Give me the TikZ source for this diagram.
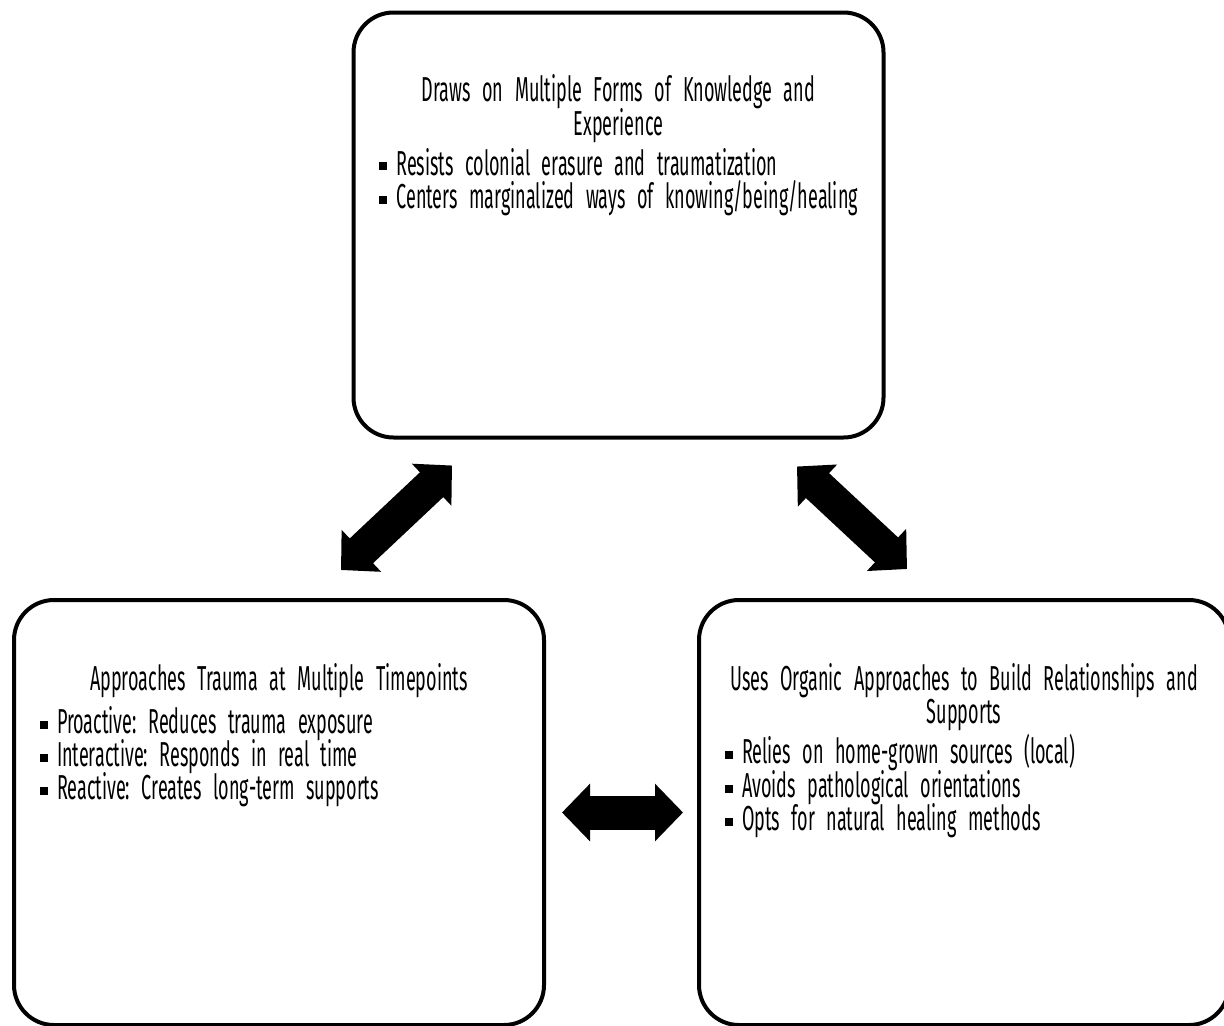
\documentclass[tikz,border=0pt]{standalone}
\usepackage{fontspec}
\setmainfont{Fira Sans}[FakeStretch=0.52]
\usepackage{tikz}
\usetikzlibrary{positioning,arrows.meta}
\tikzset{>=latex}
\newcommand\panelfont{\fontsize{26}{25}\selectfont\frenchspacing
  \spaceskip=4.5pt plus 1pt minus 1pt\relax\lineskiplimit=-20pt\relax}
\tikzstyle{panel}=[draw=black,line width=3pt,rounded corners=30pt,minimum width=397.5pt,minimum height=318.75pt,inner sep=0pt]
\tikzstyle{paneltext}=[text width=359pt,align=center,inner sep=0pt,font=\panelfont]
\tikzstyle{fatarrow}=[line width=25.5pt,{Triangle[length=21pt,width=42pt]}-{Triangle[length=21pt,width=42pt]}]
\newlength\rowwd
\setlength\rowwd{359pt}
\newcommand\ptitle[1]{\makebox[\rowwd]{#1}}
\newcommand\bitem[1]{\makebox[\rowwd][l]{\raisebox{3.6pt}{\rule{6pt}{6pt}}\hspace{7pt}#1}}

\begin{document}
\begin{tikzpicture}[x=0.75pt,y=-0.75pt]
  \useasboundingbox (0,0) rectangle (1224,1025);

  \node[panel] (know) at (618.5,225) {}; % top
  \node[panel] (trauma) at (279,812.5) {};
  \node[panel] (organic) at (964,812.5) {};

  \node[paneltext,below=48pt of know.north] (knowtext)
    {\ptitle{Draws on Multiple Forms of Knowledge and}\\\ptitle{Experience}\\[5pt]
     \bitem{Resists colonial erasure and traumatization}\\
     \bitem{Centers marginalized ways of knowing/being/healing}};
  \node[paneltext,below=49pt of trauma.north] (traumatext)
    {\ptitle{Approaches Trauma at Multiple Timepoints}\\[7pt]
     \bitem{Proactive: Reduces trauma exposure}\\
     \bitem{Interactive: Responds in real time}\\
     \bitem{Reactive: Creates long-term supports}};
  \node[paneltext,below=49pt of organic.north] (organictext)
    {\ptitle{Uses Organic Approaches to Build Relationships and}\\\ptitle{Supports}\\[5pt]
     \bitem{Relies on home-grown sources (local)}\\
     \bitem{Avoids pathological orientations}\\
     \bitem{Opts for natural healing methods}};

  % two-way links
  \draw[fatarrow] ([shift={(100.5,26)}]know.south west) -- ([shift={(329,-28)}]trauma.north west);
  \draw[fatarrow] ([shift={(-88.5,27)}]know.south east) -- ([shift={(210,-29)}]organic.north west);
  \draw[fatarrow] ([xshift=12pt]trauma.east) -- ([xshift=-10.5pt]organic.west);

\end{tikzpicture}
\end{document}
